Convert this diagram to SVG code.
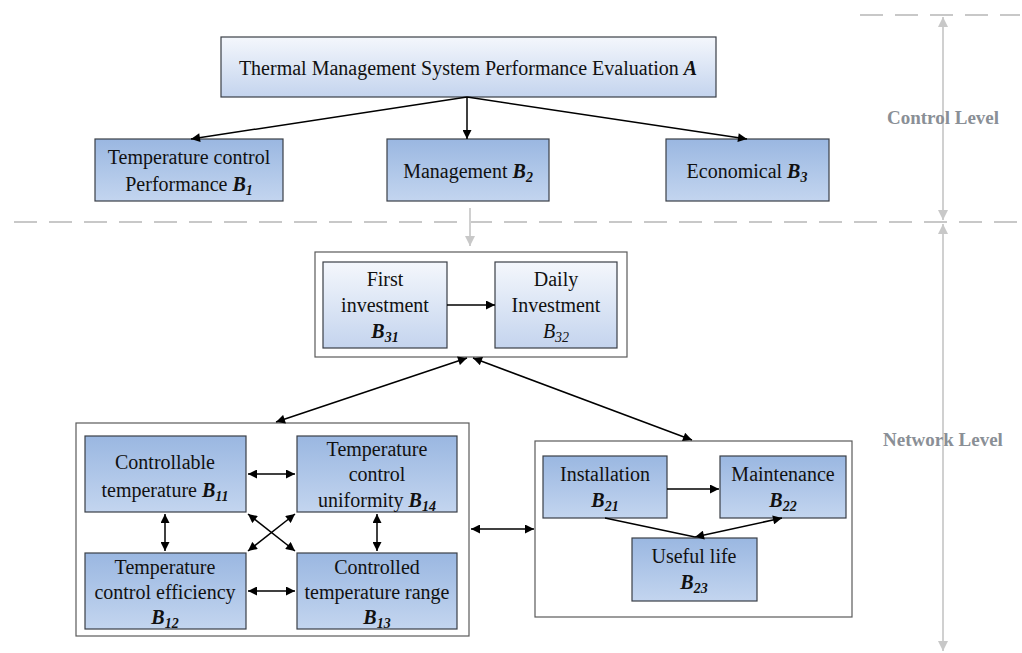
<svg xmlns="http://www.w3.org/2000/svg" width="1022" height="653" viewBox="0 0 1022 653" font-family="'Liberation Serif', 'Times New Roman', serif">
<style>
text{font-family:"Liberation Serif","Times New Roman",serif;font-size:20px;fill:#111;text-anchor:middle}
.b{font-weight:bold;font-style:italic}
.s{font-size:14px}
.lvl{font-weight:bold;fill:#8a8f96;font-size:19px}
.dk{fill:url(#gd);stroke:#3a3f47;stroke-width:1.2}
.lt{fill:url(#gl);stroke:#3a3f47;stroke-width:1.2}
.grp{fill:#fff;stroke:#5a5a5a;stroke-width:1.2}
.c{stroke:#000;stroke-width:1.5;fill:none}
.dash{stroke:#c8c8c8;stroke-width:2;stroke-dasharray:23 12;fill:none}
.g{stroke:#d0d0d0;stroke-width:2;fill:none}
</style>
<defs>
<linearGradient id="gd" x1="0" y1="0" x2="0" y2="1"><stop offset="0" stop-color="#9ab7e1"/><stop offset="1" stop-color="#c3d5ef"/></linearGradient>
<linearGradient id="gl" x1="0" y1="0" x2="0" y2="1"><stop offset="0" stop-color="#f4f7fc"/><stop offset="1" stop-color="#c4d4ee"/></linearGradient>
<marker id="ah" viewBox="0 0 10 10" refX="10" refY="5" markerWidth="11" markerHeight="9" markerUnits="userSpaceOnUse" orient="auto-start-reverse"><path d="M0,0 L10,5 L0,10 z" fill="#000"/></marker>
<marker id="ahg" viewBox="0 0 10 10" refX="10" refY="5" markerWidth="12" markerHeight="10" markerUnits="userSpaceOnUse" orient="auto-start-reverse"><path d="M0,0 L10,5 L0,10 z" fill="#c8c8c8"/></marker>
</defs>
<rect width="1022" height="653" fill="#fff"/>
<g id="levels">
<line class="dash" x1="860" y1="15" x2="1020" y2="15"/>
<line class="dash" x1="14" y1="222" x2="1020" y2="222"/>
<line class="g" x1="943" y1="17" x2="943" y2="220" marker-start="url(#ahg)" marker-end="url(#ahg)"/>
<line class="g" x1="943" y1="224" x2="943" y2="651" marker-start="url(#ahg)" marker-end="url(#ahg)"/>
<text class="lvl" x="943" y="124">Control Level</text>
<text class="lvl" x="943" y="446">Network Level</text>
<line class="g" x1="470" y1="208" x2="470" y2="246" marker-end="url(#ahg)"/>
</g>
<g id="A"><rect class="lt" x="221" y="37" width="495" height="60"/><text x="468" y="75">Thermal Management System Performance Evaluation <tspan class="b">A</tspan></text></g>
<g id="B1"><rect class="dk" x="95" y="139" width="188" height="62"/><text x="189" y="164">Temperature control</text><text x="189" y="191">Performance <tspan class="b">B</tspan><tspan class="b s" dy="4">1</tspan></text></g>
<g id="B2"><rect class="dk" x="387" y="139" width="162" height="62"/><text x="468" y="178">Management <tspan class="b">B</tspan><tspan class="b s" dy="4">2</tspan></text></g>
<g id="B3"><rect class="dk" x="666" y="139" width="163" height="62"/><text x="747" y="178">Economical <tspan class="b">B</tspan><tspan class="b s" dy="4">3</tspan></text></g>
<g id="G3"><rect class="grp" x="315" y="252" width="312" height="105"/></g>
<g id="B31"><rect class="lt" x="323" y="262" width="124" height="86"/><text x="385" y="286">First</text><text x="385" y="312">investment</text><text x="385" y="338"><tspan class="b">B</tspan><tspan class="b s" dy="4">31</tspan></text></g>
<g id="B32"><rect class="lt" x="495" y="262" width="122" height="86"/><text x="556" y="286">Daily</text><text x="556" y="312">Investment</text><text x="556" y="338"><tspan font-style="italic">B</tspan><tspan font-style="italic" class="s" dy="4">32</tspan></text></g>
<g id="G1"><rect class="grp" x="76" y="423" width="393" height="213"/></g>
<g id="B11"><rect class="dk" x="85" y="436" width="161" height="76"/><text x="165" y="469">Controllable</text><text x="165" y="497">temperature <tspan class="b">B</tspan><tspan class="b s" dy="4">11</tspan></text></g>
<g id="B14"><rect class="dk" x="297" y="436" width="160" height="76"/><text x="377" y="456">Temperature</text><text x="377" y="481">control</text><text x="377" y="507">uniformity <tspan class="b">B</tspan><tspan class="b s" dy="4">14</tspan></text></g>
<g id="B12"><rect class="dk" x="85" y="553" width="161" height="76"/><text x="165" y="574">Temperature</text><text x="165" y="599">control efficiency</text><text x="165" y="624"><tspan class="b">B</tspan><tspan class="b s" dy="4">12</tspan></text></g>
<g id="B13"><rect class="dk" x="297" y="553" width="160" height="76"/><text x="377" y="574">Controlled</text><text x="377" y="599">temperature range</text><text x="377" y="624"><tspan class="b">B</tspan><tspan class="b s" dy="4">13</tspan></text></g>
<g id="G2"><rect class="grp" x="535" y="441" width="317" height="176"/></g>
<g id="B21"><rect class="dk" x="543" y="456" width="124" height="62"/><text x="605" y="481">Installation</text><text x="605" y="507"><tspan class="b">B</tspan><tspan class="b s" dy="4">21</tspan></text></g>
<g id="B22"><rect class="dk" x="720" y="456" width="126" height="62"/><text x="783" y="481">Maintenance</text><text x="783" y="507"><tspan class="b">B</tspan><tspan class="b s" dy="4">22</tspan></text></g>
<g id="B23"><rect class="dk" x="632" y="538" width="125" height="63"/><text x="694" y="563">Useful life</text><text x="694" y="589"><tspan class="b">B</tspan><tspan class="b s" dy="4">23</tspan></text></g>
<g id="connectors">
<line class="c" x1="467" y1="97" x2="191" y2="139" marker-end="url(#ah)"/>
<line class="c" x1="467" y1="97" x2="467" y2="139" marker-end="url(#ah)"/>
<line class="c" x1="467" y1="97" x2="747" y2="139" marker-end="url(#ah)"/>
<line class="c" x1="447" y1="305" x2="495" y2="305" marker-end="url(#ah)"/>
<line class="c" x1="276" y1="422" x2="467" y2="358" marker-start="url(#ah)" marker-end="url(#ah)"/>
<line class="c" x1="473" y1="358" x2="692" y2="440" marker-start="url(#ah)" marker-end="url(#ah)"/>
<line class="c" x1="471" y1="529" x2="534" y2="529" marker-start="url(#ah)" marker-end="url(#ah)"/>
<line class="c" x1="248" y1="474" x2="295" y2="474" marker-start="url(#ah)" marker-end="url(#ah)"/>
<line class="c" x1="248" y1="591" x2="295" y2="591" marker-start="url(#ah)" marker-end="url(#ah)"/>
<line class="c" x1="165" y1="514" x2="165" y2="551" marker-start="url(#ah)" marker-end="url(#ah)"/>
<line class="c" x1="377" y1="514" x2="377" y2="551" marker-start="url(#ah)" marker-end="url(#ah)"/>
<line class="c" x1="248" y1="514" x2="295" y2="551" marker-start="url(#ah)" marker-end="url(#ah)"/>
<line class="c" x1="295" y1="514" x2="248" y2="551" marker-start="url(#ah)" marker-end="url(#ah)"/>
<line class="c" x1="667" y1="489" x2="719" y2="489" marker-end="url(#ah)"/>
<line class="c" x1="605" y1="518" x2="695" y2="537"/>
<line class="c" x1="695" y1="537" x2="782" y2="518" marker-start="url(#ah)" marker-end="url(#ah)"/>
</g>
</svg>
